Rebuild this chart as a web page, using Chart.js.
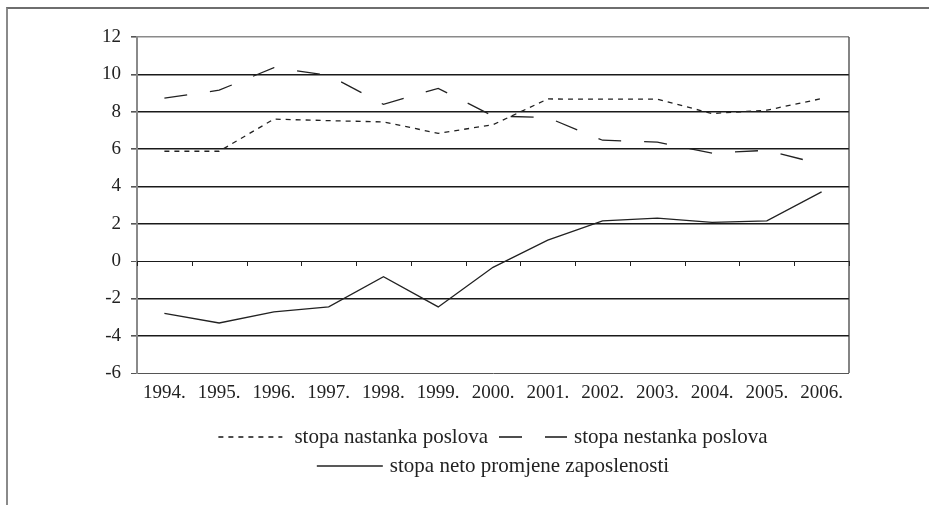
<!DOCTYPE html>
<html>
<head>
<meta charset="utf-8">
<script src="https://cdn.jsdelivr.net/npm/chart.js@4"></script>
<style>
  html, body { margin: 0; padding: 0; background: #fff; }
  #wrap { position: relative; width: 929px; height: 505px; overflow: hidden; }
  #frame { position: absolute; left: 6px; top: 7px; width: 1000px; height: 600px;
           border-top: 2px solid #6e6e6e; border-left: 2px solid #8a8a8a; }
  #chart { position: absolute; left: 0; top: 0; }
</style>
</head>
<body>
<div id="wrap">
  <div id="frame"></div>
  <canvas id="chart" width="929" height="505"></canvas>
</div>
<script>
const years = ['1994.', '1995.', '1996.', '1997.', '1998.', '1999.', '2000.',
               '2001.', '2002.', '2003.', '2004.', '2005.', '2006.'];
const nastanka = [5.88, 5.88, 7.6, 7.52, 7.45, 6.84, 7.3, 8.68, 8.67, 8.67, 7.9, 8.08, 8.7];
const nestanka = [8.72, 9.15, 10.36, 9.95, 8.39, 9.25, 7.77, 7.68, 6.47, 6.37, 5.78, 5.93, 5.18];
const netoPromjena = [-2.81, -3.32, -2.72, -2.46, -0.84, -2.46, -0.34, 1.12, 2.15, 2.3, 2.07, 2.15, 3.7];
const legendLabels = ['stopa nastanka poslova', 'stopa nestanka poslova', 'stopa neto promjene zaposlenosti'];

const FONT = '"Liberation Serif", "Times New Roman", serif';
const ink = '#222';

// x-axis tick marks on the zero line, right border and legend
const extras = {
  id: 'extras',
  afterDraw(chart) {
    const ctx = chart.ctx;
    const area = chart.chartArea;
    const xs = chart.scales.x;
    const ys = chart.scales.y;
    const y0 = ys.getPixelForValue(0);
    ctx.save();
    ctx.strokeStyle = ink;
    ctx.lineWidth = 1;
    const step = xs.getPixelForValue(1) - xs.getPixelForValue(0);
    for (let i = 0; i <= years.length; i++) {
      const x = Math.round(xs.getPixelForValue(i) - step / 2) + 0.5;
      ctx.beginPath();
      ctx.moveTo(x, y0);
      ctx.lineTo(x, y0 + 5);
      ctx.stroke();
    }
    // right border
    ctx.strokeStyle = '#333';
    ctx.lineWidth = 1.2;
    ctx.beginPath();
    ctx.moveTo(area.right, area.top);
    ctx.lineTo(area.right, area.bottom);
    ctx.stroke();

    // legend
    ctx.font = '21px ' + FONT;
    ctx.textBaseline = 'middle';
    ctx.fillStyle = ink;
    const ds = chart.data.datasets;
    const cx = (area.left + area.right) / 2;
    const drawSample = (d, x, y, len) => {
      ctx.save();
      ctx.strokeStyle = d.borderColor;
      ctx.lineWidth = d.borderWidth + 0.3;
      ctx.setLineDash(d.borderDash || []);
      ctx.beginPath();
      ctx.moveTo(x, y);
      ctx.lineTo(x + len, y);
      ctx.stroke();
      ctx.restore();
    };
    const row1 = 437, row2 = 466;
    const w1 = ctx.measureText(legendLabels[0]).width;
    const w2 = ctx.measureText(legendLabels[1]).width;
    const total1 = 64 + 12 + w1 + 11 + 68 + 7 + w2;
    let x = cx - total1 / 2;
    drawSample(ds[0], x, row1, 64); x += 64 + 12;
    ctx.fillText(legendLabels[0], x, row1); x += w1 + 11;
    drawSample(ds[1], x, row1, 68); x += 68 + 7;
    ctx.fillText(legendLabels[1], x, row1);

    const w3 = ctx.measureText(legendLabels[2]).width;
    const total2 = 66 + 7 + w3;
    x = cx - total2 / 2;
    drawSample(ds[2], x, row2, 66); x += 66 + 7;
    ctx.fillText(legendLabels[2], x, row2);
    ctx.restore();
  }
};

new Chart(document.getElementById('chart'), {
  type: 'line',
  data: {
    labels: years,
    datasets: [
      { label: legendLabels[0], data: nastanka, borderColor: ink, borderWidth: 1.3,
        borderDash: [5, 5], pointRadius: 0, tension: 0, fill: false },
      { label: legendLabels[1], data: nestanka, borderColor: ink, borderWidth: 1.3,
        borderDash: [23, 23], pointRadius: 0, tension: 0, fill: false },
      { label: legendLabels[2], data: netoPromjena, borderColor: ink, borderWidth: 1.3,
        pointRadius: 0, tension: 0, fill: false }
    ]
  },
  options: {
    responsive: false,
    animation: false,
    events: [],
    layout: { padding: { left: 0, top: 37, right: 80, bottom: 0 } },
    plugins: {
      legend: { display: false },
      title: { display: false },
      tooltip: { enabled: false }
    },
    scales: {
      x: {
        offset: true,
        grid: { display: false, drawTicks: false },
        border: { display: false },
        ticks: { color: ink, font: { family: FONT, size: 19 }, padding: 9,
                 maxRotation: 0, autoSkip: false },
        afterFit(scale) { scale.height = 132; }
      },
      y: {
        min: -6, max: 12,
        ticks: { stepSize: 2, color: ink, font: { family: FONT, size: 19 }, padding: 10 },
        grid: {
          color: c => c.tick && c.tick.value === 12 ? '#8a8a8a' : (c.tick && c.tick.value === -6 ? '#555' : '#1a1a1a'),
          lineWidth: c => c.tick && (c.tick.value === 0 || c.tick.value === -6) ? 1 : 1.6,
          tickLength: 6,
          tickColor: '#555'
        },
        border: { display: true, color: '#8a8a8a', width: 2 },
        afterFit(scale) { scale.width = 137; }
      }
    }
  },
  plugins: [extras]
});
</script>
</body>
</html>
